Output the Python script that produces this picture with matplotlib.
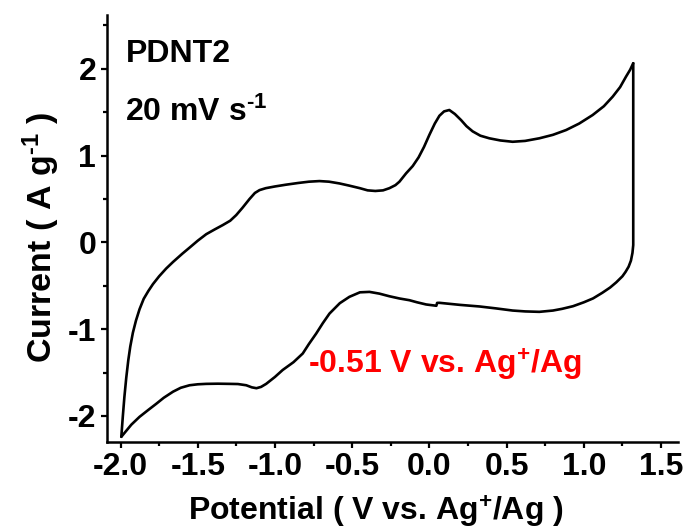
import matplotlib
matplotlib.use("Agg")
import matplotlib.pyplot as plt

# Anodic (forward) scan
fwd_x = [-1.995, -1.985, -1.975, -1.963, -1.95, -1.937, -1.92, -1.90, -1.877, -1.85,
         -1.82, -1.79, -1.75, -1.704, -1.66, -1.60, -1.553, -1.50, -1.445,
         -1.39, -1.338, -1.29, -1.251, -1.21, -1.165, -1.13, -1.10, -1.06, -1.00,
         -0.93, -0.85, -0.78, -0.712, -0.65, -0.583, -0.52, -0.45, -0.40, -0.35,
         -0.30, -0.259, -0.22, -0.194, -0.151, -0.108, -0.07, -0.035, 0.0, 0.035,
         0.065, 0.095, 0.129, 0.165, 0.205, 0.24, 0.28, 0.33, 0.388, 0.46,
         0.539, 0.62, 0.712, 0.80, 0.885, 0.97, 1.057, 1.13, 1.187, 1.235,
         1.273, 1.30, 1.32]
fwd_y = [-2.24, -2.00, -1.78, -1.56, -1.36, -1.20, -1.04, -0.90, -0.77, -0.65,
         -0.56, -0.48, -0.39, -0.30, -0.225, -0.13, -0.06, 0.02, 0.095,
         0.15, 0.20, 0.25, 0.315, 0.40, 0.50, 0.57, 0.603, 0.625, 0.645,
         0.665, 0.685, 0.70, 0.707, 0.70, 0.68, 0.655, 0.625, 0.60, 0.593,
         0.60, 0.625, 0.66, 0.70, 0.796, 0.88, 0.98, 1.10, 1.24, 1.37,
         1.46, 1.51, 1.526, 1.48, 1.41, 1.34, 1.28, 1.23, 1.20, 1.175,
         1.16, 1.17, 1.20, 1.24, 1.295, 1.37, 1.468, 1.57, 1.68, 1.79,
         1.91, 1.99, 2.065]

# Cathodic (reverse) scan
rev_x = [1.32, 1.32, 1.315, 1.305, 1.29, 1.27, 1.25, 1.21, 1.17, 1.12,
         1.06, 1.00, 0.93, 0.86, 0.80, 0.712, 0.62, 0.539, 0.43, 0.324,
         0.20, 0.065, 0.05, 0.045, -0.021, -0.08, -0.129, -0.194, -0.26, -0.324,
         -0.388, -0.45, -0.518, -0.58, -0.647, -0.69, -0.733, -0.78, -0.82, -0.88,
         -0.95, -1.00, -1.057, -1.09, -1.12, -1.15, -1.186, -1.24, -1.294, -1.37,
         -1.445, -1.50, -1.553, -1.61, -1.66, -1.72, -1.769, -1.82, -1.877, -1.93,
         -1.995]
rev_y = [2.065, -0.03, -0.12, -0.21, -0.28, -0.34, -0.39, -0.46, -0.52, -0.58,
         -0.645, -0.69, -0.735, -0.765, -0.785, -0.80, -0.795, -0.785, -0.76, -0.738,
         -0.72, -0.696, -0.697, -0.73, -0.715, -0.69, -0.666, -0.646, -0.62, -0.59,
         -0.57, -0.575, -0.627, -0.70, -0.82, -0.93, -1.05, -1.17, -1.28, -1.38,
         -1.47, -1.55, -1.63, -1.665, -1.68, -1.67, -1.646, -1.632, -1.63, -1.628,
         -1.63, -1.635, -1.646, -1.675, -1.72, -1.79, -1.86, -1.93, -2.01, -2.10,
         -2.24]

x_ticks = [-2.0, -1.5, -1.0, -0.5, 0.0, 0.5, 1.0, 1.5]
x_ticklabels = ["-2.0", "-1.5", "-1.0", "-0.5", "0.0", "0.5", "1.0", "1.5"]
x_minor = [-1.75, -1.25, -0.75, -0.25, 0.25, 0.75, 1.25]
y_ticks = [-2, -1, 0, 1, 2]
y_ticklabels = ["-2", "-1", "0", "1", "2"]
y_minor = [-1.5, -0.5, 0.5, 1.5, 2.5]

plt.rcParams['font.family'] = ['Liberation Sans', 'DejaVu Sans']
plt.rcParams['font.weight'] = 'bold'
plt.rcParams['mathtext.fontset'] = 'custom'
plt.rcParams['mathtext.rm'] = 'Liberation Sans:bold'
plt.rcParams['mathtext.bf'] = 'Liberation Sans:bold'
plt.rcParams['mathtext.default'] = 'rm'

FS = 23

fig = plt.figure(figsize=(6.88, 5.31), dpi=100)
ax = fig.add_axes([0.155, 0.1676, 0.8305, 0.804])

ax.plot(fwd_x, fwd_y, color='black', lw=1.9, solid_joinstyle='round', solid_capstyle='round')
ax.plot(rev_x, rev_y, color='black', lw=1.9, solid_joinstyle='round', solid_capstyle='round')

ax.set_xlim(-2.09, 1.61)
ax.set_ylim(-2.30, 2.62)
ax.set_xticks(x_ticks)
ax.set_xticklabels(x_ticklabels)
ax.set_yticks(y_ticks)
ax.set_yticklabels(y_ticklabels)
ax.set_xticks(x_minor, minor=True)
ax.set_yticks(y_minor, minor=True)

for s in ['top', 'right']:
    ax.spines[s].set_visible(False)
for s in ['left', 'bottom']:
    ax.spines[s].set_linewidth(1.8)

ax.tick_params(which='major', direction='out', length=4.5, width=1.6, labelsize=FS, pad=3)
ax.tick_params(which='minor', direction='out', length=3, width=1.6)
for lab in ax.get_xticklabels() + ax.get_yticklabels():
    lab.set_fontweight('bold')

ax.set_xlabel(r'Potential ( V vs. Ag$^{+}$/Ag )', fontsize=FS, fontweight='bold', labelpad=8)
ax.xaxis.label.set_x(0.471)
ax.set_ylabel(r'Current ( A g$^{\text{-1}}$ )', fontsize=24.5, fontweight='bold', labelpad=4)
ax.yaxis.label.set_y(0.479)

ax.text(-1.968, 2.08, 'PDNT2', fontsize=FS, fontweight='bold', va='baseline', ha='left')
ax.text(-1.968, 1.40, r'20 mV s$^{\text{-1}}$', fontsize=FS, fontweight='bold', va='baseline', ha='left')
ax.text(-0.783, -1.51, r'-0.51 V vs. Ag$^{+}$/Ag', fontsize=FS, fontweight='bold',
        color='#ff0000', va='baseline', ha='left')

fig.savefig('out.png', dpi=100)
